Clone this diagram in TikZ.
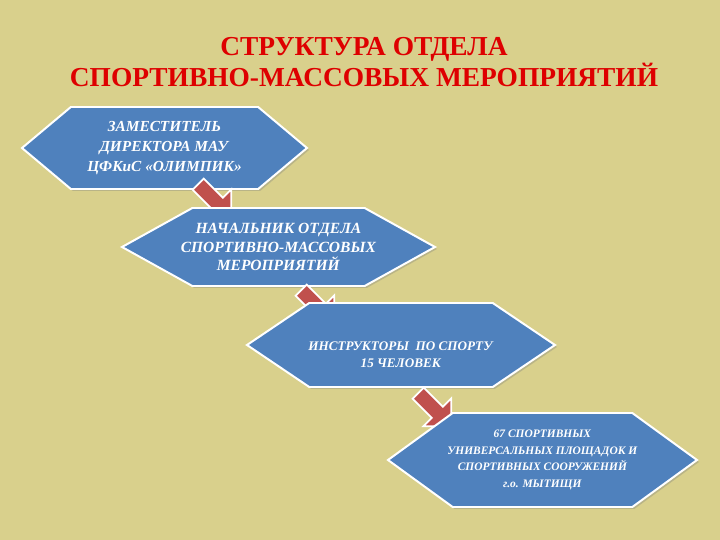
\documentclass[tikz,border=0pt]{standalone}
\usepackage{fontspec}
\setmainfont{Liberation Serif}
\usetikzlibrary{shapes.symbols,shapes.arrows,shadows}
\definecolor{fonbg}{RGB}{217,208,140}
\definecolor{hexblue}{RGB}{79,129,189}
\definecolor{arrred}{RGB}{192,80,77}
\definecolor{titred}{RGB}{222,0,0}
\tikzset{
  hexnode/.style = {align=center, inner sep=0pt, text centered},
  hex_b/.style = {hexnode, signal, signal to=west and east, fill=hexblue, draw=white,
    line width=0.7mm, text=white, drop shadow={opacity=0.35, shadow xshift=2pt, shadow yshift=-2pt}},
  arr_r/.style = {single arrow, fill=arrred, draw=white, line width=0.6mm, inner sep=7pt,
    single arrow head extend=12pt, minimum height=47pt, sloped},
}
\newcommand{\bi}[1]{\makebox[0pt]{\textbf{\textit{#1}}}}

\begin{document}
\begin{tikzpicture}[x=1bp, y=1bp]
  \fill[fonbg] (0,0) rectangle (720,-540);
  \useasboundingbox (0,0) rectangle (720,-540);

  \node [hexnode, text=titred, font=\fontsize{27.5}{26.5}\selectfont\bfseries] (title) at (364,-62)
    {СТРУКТУРА ОТДЕЛА\\СПОРТИВНО-МАССОВЫХ МЕРОПРИЯТИЙ};

  % levels
  \node [hex_b, signal pointer angle=80, minimum width=285bp, minimum height=82bp,
    font=\fontsize{15.4}{20.5}\selectfont] (zam) at (164.5,-148)
    {\bi{ЗАМЕСТИТЕЛЬ}\\\bi{ДИРЕКТОРА МАУ}\\\bi{ЦФКиС «ОЛИМПИК»}};
  \coordinate (a1s) at (195,-181);
  \coordinate (a1e) at (229,-215);
  \path (a1s) -- node [arr_r] (ar1) {} (a1e);

  \node [hex_b, signal pointer angle=58, minimum width=313bp, minimum height=78bp,
    font=\fontsize{15.6}{18.5}\selectfont] (nach) at (278.5,-247)
    {\bi{НАЧАЛЬНИК ОТДЕЛА}\\\bi{СПОРТИВНО-МАССОВЫХ}\\\bi{МЕРОПРИЯТИЙ}};
  \coordinate (a2s) at (298,-287);
  \coordinate (a2e) at (332,-321);
  \path (a2s) -- node [arr_r] (ar2) {} (a2e);

  \node [hex_b, signal pointer angle=68, minimum width=308bp, minimum height=84bp,
    text height=45bp, font=\fontsize{13.2}{16.5}\selectfont] (instr) at (401,-345)
    {\bi{ИНСТРУКТОРЫ~ ПО СПОРТУ}\\\bi{15 ЧЕЛОВЕК}};
  \coordinate (a3s) at (415,-390);
  \coordinate (a3e) at (449,-424);
  \path (a3s) -- node [arr_r] (ar3) {} (a3e);

  \node [hex_b, signal pointer angle=72, minimum width=309bp, minimum height=94bp,
    font=\fontsize{11.5}{16.5}\selectfont] (sport) at (542.5,-460)
    {\bi{67 СПОРТИВНЫХ}\\\bi{УНИВЕРСАЛЬНЫХ ПЛОЩАДОК И}\\\bi{СПОРТИВНЫХ СООРУЖЕНИЙ}\\\bi{г.о. МЫТИЩИ}};
\end{tikzpicture}
\end{document}
